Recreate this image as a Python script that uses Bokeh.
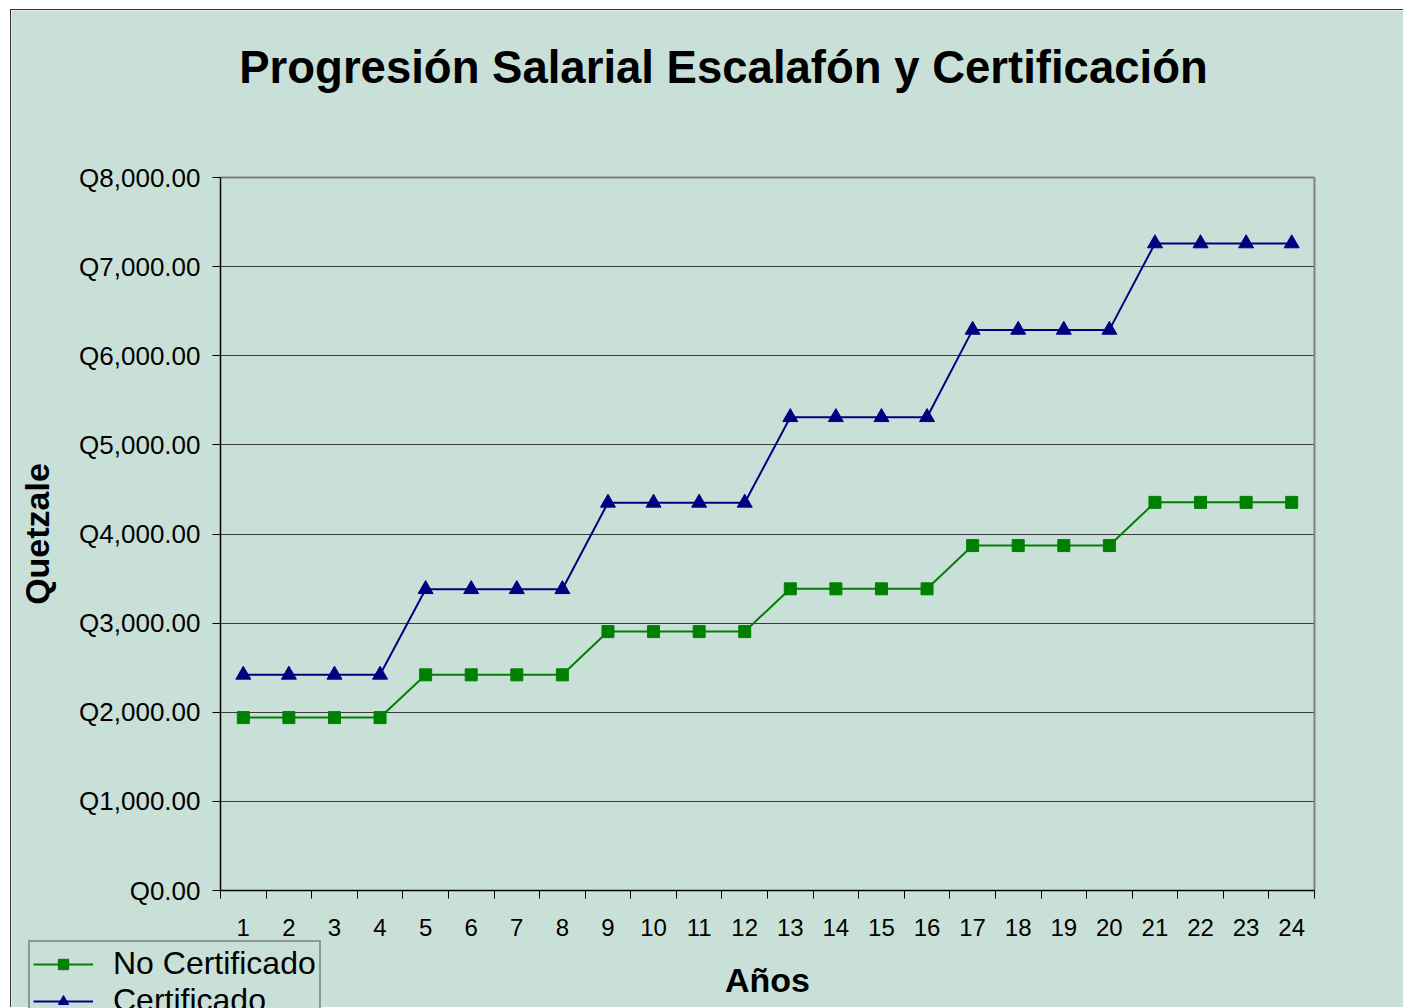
from bokeh.plotting import figure
from bokeh.models import (FixedTicker, Legend, LegendItem, Label, LinearAxis, Grid,
                          Range1d, CustomJSTickFormatter)
from bokeh.embed import file_html
from bokeh.resources import INLINE

years = list(range(1, 25))
no_cert = [1940]*4 + [2420]*4 + [2905]*4 + [3385]*4 + [3870]*4 + [4355]*4
cert = [2420]*4 + [3380]*4 + [4350]*4 + [5310]*4 + [6290]*4 + [7260]*4
y_ticks = [0, 1000, 2000, 3000, 4000, 5000, 6000, 7000, 8000]
x_bounds = [y + 0.5 for y in range(0, 25)]

BG = "#C9E0D8"
FONT = "Liberation Sans"

# layout constants (page pixels)
CANVAS_L, CANVAS_T = 11, 10
W, H = 1393, 998
PLOT_L, PLOT_R, PLOT_T, PLOT_B = 220, 1314, 177, 890
X0, X1 = 0.5, 24.5
Y0, Y1 = 0, 8000
sx = (X1 - X0) / (PLOT_R - PLOT_L)
sy = (Y1 - Y0) / (PLOT_B - PLOT_T)
x_start = X0 - (PLOT_L - CANVAS_L) * sx
x_end = X1 + (CANVAS_L + W - PLOT_R) * sx
y_start = Y0 - (CANVAS_T + H - PLOT_B) * sy
y_end = Y1 + (PLOT_T - CANVAS_T) * sy

def px_x(px):
    return X0 + (px - PLOT_L) * sx

def px_y(py):
    return Y0 + (PLOT_B - py) * sy

p = figure(width=W, height=H, output_backend="svg", toolbar_location=None,
           x_range=Range1d(x_start, x_end), y_range=Range1d(y_start, y_end),
           x_axis_location=None, y_axis_location=None,
           min_border=0, min_border_left=0, min_border_right=0,
           min_border_top=0, min_border_bottom=0)
p.margin = (9, 0, 0, 10)
p.styles = {"border-left": "1px solid #333", "border-top": "1px solid #333"}
p.background_fill_color = BG
p.border_fill_color = BG
p.outline_line_color = None
p.grid.visible = False

# horizontal gridlines
hgrid = Grid(dimension=1, ticker=FixedTicker(ticks=y_ticks[1:-1]), cross_bounds=(X0, X1),
             grid_line_color="#3a3a3a", grid_line_width=1)
p.add_layout(hgrid)
# plot area border (top / right), grey
top_edge = Grid(dimension=1, ticker=FixedTicker(ticks=[Y1]), cross_bounds=(X0, X1),
                grid_line_color="#808080", grid_line_width=2)
right_edge = Grid(dimension=0, ticker=FixedTicker(ticks=[X1]), cross_bounds=(Y0, Y1),
                  grid_line_color="#808080", grid_line_width=2)
p.add_layout(top_edge)
p.add_layout(right_edge)

# y axis
yaxis = LinearAxis(fixed_location=X0, bounds=(Y0, Y1), ticker=FixedTicker(ticks=y_ticks))
yaxis.formatter = CustomJSTickFormatter(code="""
    return 'Q' + tick.toLocaleString('en-US', {minimumFractionDigits: 2, maximumFractionDigits: 2});
""")
yaxis.axis_line_color = "black"
yaxis.axis_line_width = 1.5
yaxis.major_tick_out = 8
yaxis.major_tick_in = 0
yaxis.major_tick_line_color = "black"
yaxis.minor_tick_line_color = None
yaxis.major_label_text_font = FONT
yaxis.major_label_text_font_size = "26px"
yaxis.major_label_text_color = "black"
yaxis.major_label_standoff = 12
yaxis.axis_label = "Quetzale"
yaxis.axis_label_text_font = FONT
yaxis.axis_label_text_font_style = "bold"
yaxis.axis_label_text_font_size = "34px"
yaxis.axis_label_text_color = "black"
yaxis.axis_label_standoff = 20
p.add_layout(yaxis, "left")

# x axis
xaxis = LinearAxis(fixed_location=Y0, bounds=(X0, X1),
                   ticker=FixedTicker(ticks=years, minor_ticks=x_bounds))
xaxis.axis_line_color = "black"
xaxis.axis_line_width = 1.5
xaxis.major_tick_out = 0
xaxis.major_tick_in = 0
xaxis.minor_tick_out = 8
xaxis.minor_tick_in = 0
xaxis.minor_tick_line_color = "black"
xaxis.major_label_text_font = FONT
xaxis.major_label_text_font_size = "24px"
xaxis.major_label_text_color = "black"
xaxis.major_label_standoff = 20
xaxis.axis_label = "Años"
xaxis.axis_label_text_font = FONT
xaxis.axis_label_text_font_style = "bold"
xaxis.axis_label_text_font_size = "34px"
xaxis.axis_label_text_color = "black"
xaxis.axis_label_standoff = 22
p.add_layout(xaxis, "below")

# series
l1 = p.line(years, no_cert, line_color="#008000", line_width=2)
m1 = p.scatter(years, no_cert, marker="square", size=12, fill_color="#008000", line_color="#008000")
l2 = p.line(years, cert, line_color="#000080", line_width=2)
m2 = p.scatter(years, cert, marker="triangle", size=15, fill_color="#000080", line_color="#000080")

# title
title = Label(x=px_x(723), y=px_y(67),
              text="Progresión Salarial Escalafón y Certificación",
              text_font=FONT, text_font_style="bold", text_font_size="45.5px",
              text_align="center", text_baseline="alphabetic", text_color="black")
p.add_layout(title)

legend = Legend(items=[LegendItem(label="No Certificado", renderers=[l1, m1]),
                       LegendItem(label="Certificado", renderers=[l2, m2])],
                location=(28 - CANVAS_L, -16))
legend.label_text_font = FONT
legend.label_text_font_size = "32px"
legend.label_text_color = "black"
legend.background_fill_color = BG
legend.background_fill_alpha = 1
legend.border_line_color = "#505050"
legend.border_line_width = 2
legend.glyph_width = 60
legend.label_standoff = 20
legend.padding = 3
legend.margin = 0
legend.spacing = 0
legend.label_height = 26
legend.glyph_height = 26
p.add_layout(legend, "center")

open("out.html", "w").write(file_html(p, INLINE))
